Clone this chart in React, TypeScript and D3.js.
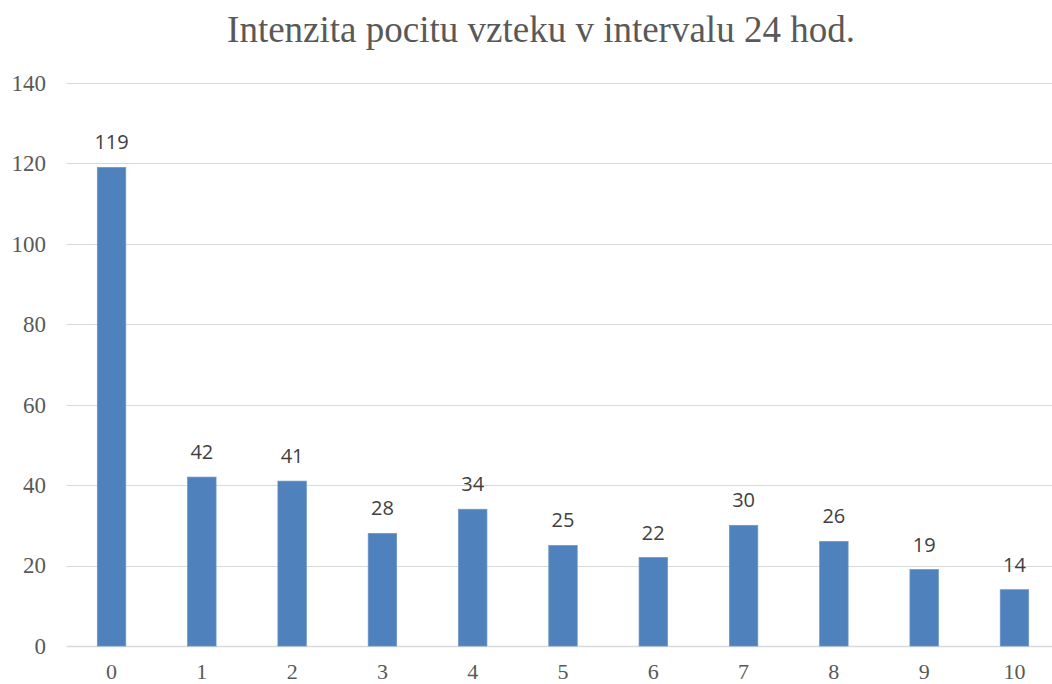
import { useEffect, useRef } from 'react';
import * as d3 from 'd3';

const categories = ['0', '1', '2', '3', '4', '5', '6', '7', '8', '9', '10'];
const values = [119, 42, 41, 28, 34, 25, 22, 30, 26, 19, 14];
const yTicks = [0, 20, 40, 60, 80, 100, 120, 140];
const title = 'Intenzita pocitu vzteku v intervalu 24 hod.';

export default function App() {
  const svgRef = useRef<SVGSVGElement>(null);

  useEffect(() => {
    if (!svgRef.current) return;
    const svg = d3.select(svgRef.current);
    svg.selectAll('*').remove();

    const left = 66.4;
    const right = 1059.6;
    const top = 83;
    const bottom = 646;

    const x = d3.scaleBand<string>()
      .domain(categories)
      .range([left, right])
      .paddingInner(0.685)
      .paddingOuter(0.3425);

    const y = d3.scaleLinear().domain([0, 140]).range([bottom, top]);

    svg.append('text')
      .attr('x', 541)
      .attr('y', 42)
      .attr('text-anchor', 'middle')
      .attr('font-family', '"Liberation Serif", "Times New Roman", serif')
      .attr('font-size', 37)
      .attr('fill', '#595959')
      .text(title);

    // gridlines
    svg.append('g')
      .selectAll('line')
      .data(yTicks)
      .join('line')
      .attr('x1', left)
      .attr('x2', 1052)
      .attr('y1', d => Math.round(y(d)) + 0.5)
      .attr('y2', d => Math.round(y(d)) + 0.5)
      .attr('stroke', '#d9d9d9')
      .attr('stroke-width', d => (d === 0 ? 1.5 : 1));

    // y tick labels
    svg.append('g')
      .selectAll('text')
      .data(yTicks)
      .join('text')
      .attr('x', 46)
      .attr('y', d => y(d))
      .attr('dy', '0.34em')
      .attr('text-anchor', 'end')
      .attr('font-family', '"Liberation Serif", "Times New Roman", serif')
      .attr('font-size', 23)
      .attr('fill', '#595959')
      .text(d => d);

    // x tick labels
    svg.append('g')
      .selectAll('text')
      .data(categories)
      .join('text')
      .attr('x', d => (x(d) ?? 0) + x.bandwidth() / 2)
      .attr('y', 679)
      .attr('text-anchor', 'middle')
      .attr('font-family', '"Liberation Serif", "Times New Roman", serif')
      .attr('font-size', 22)
      .attr('fill', '#595959')
      .text(d => d);

    const data = categories.map((c, i) => ({ c, v: values[i] }));

    svg.append('g')
      .selectAll('rect')
      .data(data)
      .join('rect')
      .attr('x', d => x(d.c) ?? 0)
      .attr('width', x.bandwidth())
      .attr('y', d => y(d.v))
      .attr('height', d => bottom - y(d.v))
      .attr('fill', '#4f81bd')
      .attr('stroke', '#6a95c8')
      .attr('stroke-width', 0.75);

    svg.append('g')
      .selectAll('text')
      .data(data)
      .join('text')
      .attr('x', d => (x(d.c) ?? 0) + x.bandwidth() / 2)
      .attr('y', d => y(d.v) - 18)
      .attr('text-anchor', 'middle')
      .attr('font-family', '"Open Sans", sans-serif')
      .attr('font-size', 20)
      .attr('fill', '#404040')
      .text(d => d.v);
  }, []);

  return (
    <svg
      ref={svgRef}
      width={1052}
      height={684}
      style={{ position: 'absolute', left: 0, top: 0, background: '#fff' }}
    ></svg>
  );
}
